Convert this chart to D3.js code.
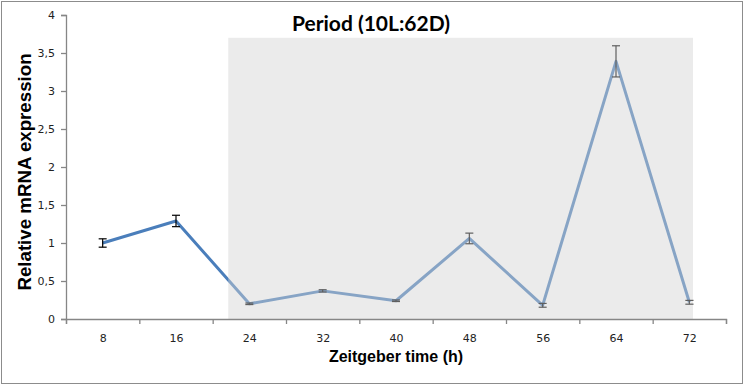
<!DOCTYPE html>
<html>
<head>
<meta charset="utf-8">
<script src="https://cdn.jsdelivr.net/npm/d3@7"></script>
<style>
  body { margin: 0; background: #fff; }
  svg { display: block; }
</style>
</head>
<body>
<div id="chart"></div>
<script>
// data
const zt = [8, 16, 24, 32, 40, 48, 56, 64, 72];
const expression = [1.0, 1.29, 0.2, 0.37, 0.24, 1.06, 0.18, 3.39, 0.22];
const errors = [0.055, 0.075, 0.01, 0.015, 0.01, 0.07, 0.025, 0.205, 0.025];
const yTicks = [0, 0.5, 1, 1.5, 2, 2.5, 3, 3.5, 4];
const darkPhase = { start: 21.7, end: 72.4, top: 3.7 };

const width = 745, height = 386;
const margin = { top: 15, right: 19, bottom: 67, left: 66 };

const svg = d3.select('#chart').append('svg')
  .attr('width', width)
  .attr('height', height);

// outer frame
svg.append('rect')
  .attr('x', 1.5).attr('y', 1.5)
  .attr('width', 741).attr('height', 382)
  .attr('fill', '#fff')
  .attr('stroke', '#8c8c8c');

// categories sit in the middle of 8h wide slots
const x = d3.scaleLinear().domain([4, 76]).range([margin.left, width - margin.right]);
const y = d3.scaleLinear().domain([0, 4]).range([height - margin.bottom, margin.top]);

const plot = svg.append('g');

// line
const line = d3.line()
  .x((d, i) => x(zt[i]))
  .y(d => y(d));

plot.append('path')
  .datum(expression)
  .attr('d', line)
  .attr('fill', 'none')
  .attr('stroke', '#4a7ebb')
  .attr('stroke-width', 3)
  .attr('stroke-linejoin', 'round');

// error bars
const eb = plot.selectAll('.err').data(expression).enter().append('g').attr('class', 'err');
eb.append('line')
  .attr('x1', (d, i) => x(zt[i])).attr('x2', (d, i) => x(zt[i]))
  .attr('y1', (d, i) => y(d - errors[i])).attr('y2', (d, i) => y(d + errors[i]));
eb.append('line')
  .attr('x1', (d, i) => x(zt[i]) - 4).attr('x2', (d, i) => x(zt[i]) + 4)
  .attr('y1', (d, i) => y(d + errors[i])).attr('y2', (d, i) => y(d + errors[i]));
eb.append('line')
  .attr('x1', (d, i) => x(zt[i]) - 4).attr('x2', (d, i) => x(zt[i]) + 4)
  .attr('y1', (d, i) => y(d - errors[i])).attr('y2', (d, i) => y(d - errors[i]));
eb.selectAll('line').attr('stroke', '#000').attr('stroke-width', 1.2);

// dark phase shading, lies over the series
plot.append('rect')
  .attr('x', x(darkPhase.start))
  .attr('y', y(darkPhase.top))
  .attr('width', x(darkPhase.end) - x(darkPhase.start))
  .attr('height', y(0) - y(darkPhase.top))
  .attr('fill', '#d3d3d3')
  .attr('fill-opacity', 0.45);

// y axis
const yAxis = d3.axisLeft(y)
  .tickValues(yTicks)
  .tickSize(5)
  .tickPadding(6)
  .tickFormat(d => String(d).replace('.', ','));

const gy = svg.append('g')
  .attr('transform', `translate(${margin.left},0)`)
  .call(yAxis);

// x axis: ticks on slot edges, labels in slot centres
const edges = d3.range(4, 77, 8);
const gx = svg.append('g')
  .attr('transform', `translate(0,${y(0)})`)
  .call(d3.axisBottom(x).tickValues(edges).tickSize(5).tickFormat(''));

const gxl = svg.append('g')
  .attr('transform', `translate(0,${y(0)})`)
  .call(d3.axisBottom(x).tickValues(zt).tickSize(0).tickPadding(15).tickFormat(d => d));
gxl.select('.domain').remove();

svg.selectAll('.domain, .tick line').attr('stroke', '#868686').attr('stroke-width', 1.3);
svg.selectAll('.tick text')
  .attr('font-family', 'DejaVu Sans, Verdana, sans-serif')
  .attr('font-size', 11)
  .attr('fill', '#222');

// titles
svg.append('text')
  .attr('x', 371).attr('y', 31)
  .attr('text-anchor', 'middle')
  .attr('font-family', 'Lato, Open Sans, sans-serif')
  .attr('font-weight', 'bold')
  .attr('font-size', 21)
  .attr('fill', '#000')
  .text('Period (10L:62D)');

svg.append('text')
  .attr('x', 396).attr('y', 362)
  .attr('text-anchor', 'middle')
  .attr('font-family', 'Liberation Sans, Arial, sans-serif')
  .attr('font-weight', 'bold')
  .attr('font-size', 16)
  .text('Zeitgeber time (h)');

svg.append('text')
  .attr('transform', 'translate(31,172) rotate(-90)')
  .attr('text-anchor', 'middle')
  .attr('font-family', 'Liberation Sans, Arial, sans-serif')
  .attr('font-weight', 'bold')
  .attr('font-size', 18.7)
  .text('Relative mRNA expression');
</script>
</body>
</html>
